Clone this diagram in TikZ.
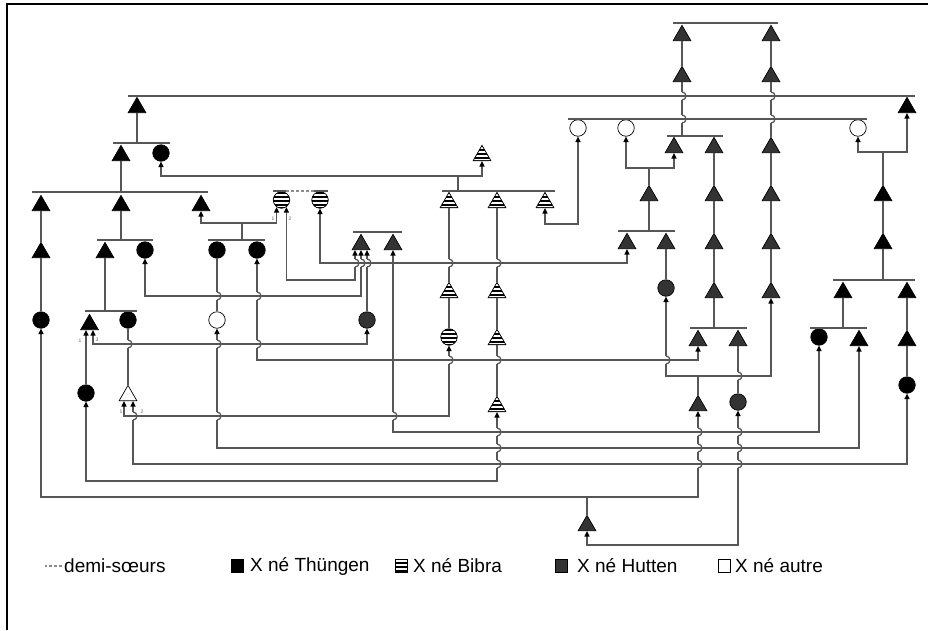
\documentclass[tikz,border=0pt]{standalone}
\usepackage{fontspec}
\setmainfont{Liberation Sans}
\usetikzlibrary{shapes.geometric,arrows.meta}

% a vertical line jumping over a horizontal one
\newcommand{\linehop}[2]{%
  \fill[white] ({#1-1.5},{#2-4.2}) rectangle ({#1+1.5},{#2+4.2});
  \draw[wire] ({#1-2.2},#2) -- ({#1+2.2},#2);
  \draw[wire] (#1,{#2-4}) arc[start angle=-90,end angle=90,radius=4];}

\begin{document}
\begin{tikzpicture}[
  x=1pt, y=-1pt,
  wire/.style={draw=black!66, line width=1.25pt},
  bar/.style={wire},
  halfsis/.style={draw=black!45, line width=1.2pt, dash pattern=on 3pt off 2pt},
  >={Triangle[width=5pt,length=5.5pt,color=black]},
  link/.style={wire, <->},
  linkup/.style={wire, ->},
  sym/.style={draw=black, line width=0.7pt, inner sep=0pt},
  tri/.style={sym, regular polygon, regular polygon sides=3, minimum size=20.5pt, yshift=-2.6pt},
  rnd/.style={sym, circle, minimum size=16.5pt},
  thun/.style={fill=black},
  hutt/.style={fill=black!80},
  bibr/.style={fill=black, path picture={
      \foreach \k in {-3,...,3}
        \draw[white, line width=1.7pt]
          ([yshift=\k*3.8pt+1pt]path picture bounding box.west) -- ++(30,0);}},
  autr/.style={fill=white},
  idx/.style={font=\fontsize{5pt}{5pt}\selectfont, text=black!60, inner sep=0pt},
  key/.style={font=\fontsize{19pt}{22pt}\selectfont, anchor=west, inner sep=0pt},
  swatch/.style={sym, rectangle, minimum width=12pt, minimum height=13pt, anchor=west},
]
\useasboundingbox (0,0) rectangle (928,630);
\draw[line width=1.3pt] (7,630) -- (7,4) -- (928,4);

% Thüngen
\node[tri,thun] (th1) at (137,105) {};
\node[tri,thun] (th2) at (907,105) {};
\node[tri,thun] (th3) at (121,153) {};
\node[tri,thun] (th4) at (41,203) {};
\node[tri,thun] (th5) at (121,203) {};
\node[tri,thun] (th6) at (201,203) {};
\node[tri,thun] (th7) at (41,250) {};
\node[tri,thun] (th8) at (105,250) {};
\node[tri,thun] (th9) at (89.5,322) {};
\node[tri,thun] (th10) at (883,193) {};
\node[tri,thun] (th11) at (883,241) {};
\node[tri,thun] (th12) at (843,290) {};
\node[tri,thun] (th13) at (907,290) {};
\node[tri,thun] (th14) at (907,338) {};
\node[tri,thun] (th15) at (859,338) {};
\node[rnd,thun] (thc1) at (161,153) {};
\node[rnd,thun] (thc2) at (145,250) {};
\node[rnd,thun] (thc3) at (217,250) {};
\node[rnd,thun] (thc4) at (257,250) {};
\node[rnd,thun] (thc5) at (41,320) {};
\node[rnd,thun] (thc6) at (128,320) {};
\node[rnd,thun] (thc7) at (86,393) {};
\node[rnd,thun] (thc8) at (819,337) {};
\node[rnd,thun] (thc9) at (907,385) {};

% Hutten
\node[tri,hutt] (hu1) at (682,33) {};
\node[tri,hutt] (hu2) at (771,33) {};
\node[tri,hutt] (hu3) at (682,74) {};
\node[tri,hutt] (hu4) at (771,74) {};
\node[tri,hutt] (hu5) at (674,145) {};
\node[tri,hutt] (hu6) at (714,145) {};
\node[tri,hutt] (hu7) at (771,145) {};
\node[tri,hutt] (hu8) at (649,193) {};
\node[tri,hutt] (hu9) at (714,193) {};
\node[tri,hutt] (hu10) at (771,193) {};
\node[tri,hutt] (hu11) at (627,241) {};
\node[tri,hutt] (hu12) at (666,241) {};
\node[tri,hutt] (hu13) at (714,241) {};
\node[tri,hutt] (hu14) at (771,241) {};
\node[tri,hutt] (hu15) at (714,290) {};
\node[tri,hutt] (hu16) at (771,290) {};
\node[tri,hutt] (hu17) at (698,338) {};
\node[tri,hutt] (hu18) at (738,338) {};
\node[tri,hutt] (hu19) at (698,403) {};
\node[tri,hutt] (hu20) at (587,523) {};
\node[tri,hutt] (hu21) at (361,242) {};
\node[tri,hutt] (hu22) at (393,242) {};
\node[rnd,hutt] (huc1) at (666,288) {};
\node[rnd,hutt] (huc2) at (738,402) {};
\node[rnd,hutt] (huc3) at (367,320) {};

% Bibra
\node[tri,bibr] (bi1) at (482,153) {};
\node[tri,bibr] (bi2) at (449,200) {};
\node[tri,bibr] (bi3) at (497,200) {};
\node[tri,bibr] (bi4) at (545,200) {};
\node[tri,bibr] (bi5) at (449,290) {};
\node[tri,bibr] (bi6) at (497,290) {};
\node[tri,bibr] (bi7) at (497,337) {};
\node[tri,bibr] (bi8) at (497,404) {};
\node[rnd,bibr] (bic1) at (281.5,200) {};
\node[rnd,bibr] (bic2) at (320,200) {};
\node[rnd,bibr] (bic3) at (449,337) {};

% autre
\node[rnd,autr] (auc1) at (578,128) {};
\node[rnd,autr] (auc2) at (626,128) {};
\node[rnd,autr] (auc3) at (858,128) {};
\node[rnd,autr] (auc4) at (217,320) {};
\node[tri,autr] (aut1) at (128,393) {};

% sibling bars
\coordinate (barA) at (673,23);
\coordinate (barB) at (128,96);
\coordinate (barC) at (568,119);
\coordinate (barD) at (667,136);
\coordinate (barE) at (113,143);
\coordinate (barF) at (32,192);
\coordinate (barG) at (442,191);
\coordinate (barH) at (273,191);
\coordinate (barI) at (618,231);
\coordinate (barJ) at (353,232);
\coordinate (barK) at (97,240);
\coordinate (barL) at (208,240);
\coordinate (barM) at (833,280);
\coordinate (barN) at (85,311);
\coordinate (barO) at (690,328);
\coordinate (barP) at (810,328);
\draw[bar] (barA) -- ++(105,0);
\draw[bar] (barB) -- ++(787,0);
\draw[bar] (barC) -- ++(299,0);
\draw[bar] (barD) -- ++(56,0);
\draw[bar] (barE) -- ++(57,0);
\draw[bar] (barF) -- ++(176,0);
\draw[bar] (barG) -- ++(113,0);
\draw[bar] (barH) -- ++(13,0) ++(28,0) -- ++(14,0);
\draw[halfsis] (barH) ++(13,0) -- ++(28,0);
\draw[bar] (barI) -- ++(57,0);
\draw[bar] (barJ) -- ++(49,0);
\draw[bar] (barK) -- ++(56,0);
\draw[bar] (barL) -- ++(57,0);
\draw[bar] (barM) -- ++(82,0);
\draw[bar] (barN) -- ++(52,0);
\draw[bar] (barO) -- ++(57,0);
\draw[bar] (barP) -- ++(57,0);

% descent lines
\draw[wire] (hu1.south) -- (hu3.north);
\draw[wire] (hu2.south) -- (hu4.north);
\draw[wire] (hu3.south) -- (hu3.south |- barD);
\draw[wire] (hu4.south) -- (hu7.north);
\draw[wire] (hu6.south) -- (hu9.north);
\draw[wire] (hu9.south) -- (hu13.north);
\draw[wire] (hu13.south) -- (hu15.north);
\draw[wire] (hu15.south) -- (hu15.south |- barO);
\draw[wire] (hu7.south) -- (hu10.north);
\draw[wire] (hu10.south) -- (hu14.north);
\draw[wire] (hu14.south) -- (hu16.north);
\draw[wire] (hu8.south) -- (hu8.south |- barI);
\draw[wire] (hu12.south) -- (huc1.north);
\draw[wire] (hu18.south) -- (huc2.north);
\draw[wire] (th1.south) -- (th1.south |- barE);
\draw[wire] (th3.south) -- (th3.south |- barF);
\draw[wire] (th4.south) -- (th7.north);
\draw[wire] (th7.south) -- (thc5.north);
\draw[wire] (th5.south) -- (th5.south |- barK);
\draw[wire] (th8.south) -- (th8.south |- barN);
\draw[wire] (thc3.south) -- (auc4.north);
\draw[wire] (thc6.south) -- (aut1.north);
\draw[wire] (bi2.south) -- (bi5.north);
\draw[wire] (bi5.south) -- (bic3.north);
\draw[wire] (bi3.south) -- (bi6.north);
\draw[wire] (bi6.south) -- (bi7.north);
\draw[wire] (bi7.south) -- (bi8.north);
\draw[wire] (th10.south) -- (th11.north);
\draw[wire] (th11.south) -- (th11.south |- barM);
\draw[wire] (th12.south) -- (th12.south |- barP);
\draw[wire] (th13.south) -- (th14.north);
\draw[wire] (th14.south) -- (thc9.north);

% parent links
\coordinate (k1) at (458,176);
\coordinate (k2) at (242,223);
\coordinate (v3) at (320,280);
\coordinate (v4) at (400,263);
\coordinate (v5) at (250,296);
\coordinate (v7) at (200,344);
\coordinate (v9) at (500,360);
\coordinate (v10) at (300,416);
\coordinate (v11) at (600,432);
\coordinate (v12) at (600,448);
\coordinate (v13) at (600,464);
\coordinate (v14) at (300,481);
\coordinate (k15) at (587,497);
\coordinate (v16) at (650,545);
\coordinate (k17) at (698,376);
\coordinate (v18) at (560,224);
\coordinate (k19) at (649,168);
\coordinate (k20) at (883,152);

\draw[link] (thc1.south) |- (k1) -| (bi1.south);
\draw[wire] (k1) -- (k1 |- barG);
\draw[link] (th6.south) |- (k2) -| (bic1.235);
\draw[wire] (k2) -- (k2 |- barL);
\draw[link] (bic1.305) |- (v3) -| ([xshift=-6pt]hu21.south);
\draw[link] (bic2.south) |- (v4) -| (hu11.south);
\draw[link] (thc2.south) |- (v5) -| (hu21.south);
\draw[linkup] (huc3.north) -- ([xshift=6pt]hu21.south);
\draw[link] ([xshift=3.5pt]th9.south) |- (v7) -| (huc3.south);
\draw[linkup] (thc7.north) -- ([xshift=-3.5pt]th9.south);
\draw[link] (thc4.south) |- (v9) -| (hu17.south);
\draw[link] ([xshift=-4pt]aut1.south) |- (v10) -| (bic3.south);
\draw[link] (hu22.south) |- (v11) -| (thc8.south);
\draw[link] (auc4.south) |- (v12) -| (th15.south);
\draw[link] ([xshift=5pt]aut1.south) |- (v13) -| (thc9.south);
\draw[link] (thc7.south) |- (v14) -| (bi8.south);
\draw[link] (thc5.south) |- (k15) -| (hu19.south);
\draw[wire] (k15) -- (hu20.north);
\draw[link] (huc2.south) |- (v16) -| (hu20.south);
\draw[link] (huc1.south) |- (k17) -| (hu16.south);
\draw[wire] (k17) -- (hu19.north);
\draw[link] (bi4.south) |- (v18) -| (auc1.south);
\draw[link] (auc2.south) |- (k19) -| (hu5.south);
\draw[wire] (k19) -- (hu8.north);
\draw[link] (auc3.south) |- (k20) -| (th2.south);
\draw[wire] (k20) -- (th10.north);

% crossings
\linehop{682}{96} \linehop{682}{119} \linehop{771}{96} \linehop{771}{119}
\linehop{217}{296} \linehop{257}{296}
\linehop{128}{344} \linehop{217}{344} \linehop{257}{344}
\linehop{355}{263} \linehop{361}{263} \linehop{367}{263}
\linehop{449}{263} \linehop{497}{263}
\linehop{449}{360} \linehop{497}{360} \linehop{666}{360}
\linehop{738}{376}
\linehop{133}{416} \linehop{217}{416} \linehop{393}{416}
\linehop{497}{432} \linehop{698}{432} \linehop{738}{432}
\linehop{497}{448} \linehop{698}{448} \linehop{738}{448}
\linehop{497}{464} \linehop{698}{464} \linehop{738}{464}

% order marks
\node[idx] (n1) at (273,219) {1};
\node[idx] (n2) at (290,219) {2};
\node[idx] (n3) at (80,341) {1};
\node[idx] (n4) at (97,340) {3};
\node[idx] (n5) at (121,412) {1};
\node[idx] (n6) at (142,412) {2};

% legend
\node[key] (lg0) at (64,566) {demi-sœurs};
\draw[halfsis] ([xshift=-2pt]lg0.west) -- ++(-17,0);
\node[swatch,thun] (sw1) at (231,566) {};
\node[key] (lg1) at (250,566) {X né Thüngen};
\node[swatch,bibr] (sw2) at (395,566) {};
\node[key] (lg2) at (413,566) {X né Bibra};
\node[swatch,hutt] (sw3) at (555,566) {};
\node[key] (lg3) at (577,566) {X né Hutten};
\node[swatch,autr] (sw4) at (718,566) {};
\node[key] (lg4) at (735,566) {X né autre};
\end{tikzpicture}
\end{document}
